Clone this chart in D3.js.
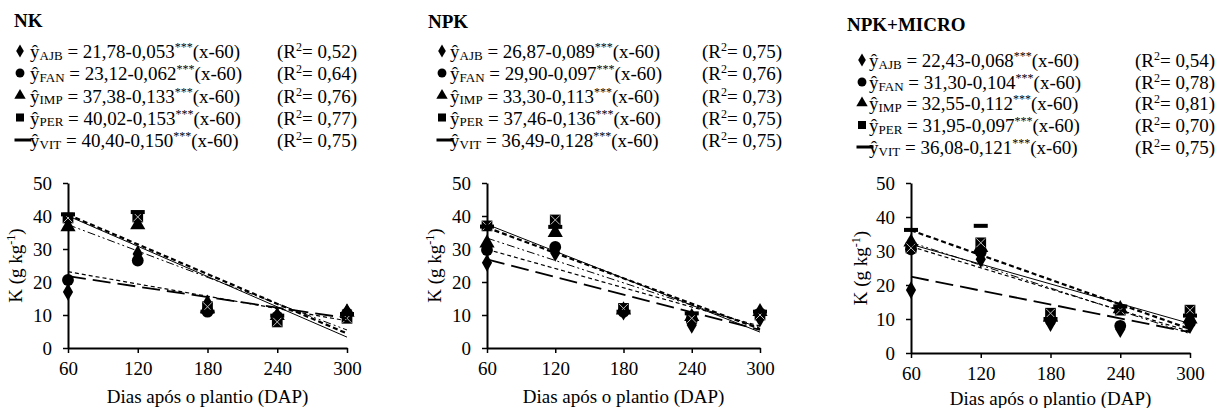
<!DOCTYPE html>
<html>
<head>
<meta charset="utf-8">
<script src="https://cdn.jsdelivr.net/npm/d3@7"></script>
<style>
  body { margin: 0; background: #fff; }
  svg text { font-family: "Times New Roman", Times, "Liberation Serif", "DejaVu Serif", serif; }
</style>
</head>
<body>
<svg id="chart" width="1219" height="408"></svg>
<script>
// Data
const days = [60, 120, 180, 240, 300];
const series = ['AJB', 'FAN', 'IMP', 'PER', 'VIT'];
const panelTitles = ['NK', 'NPK', 'NPK+MICRO'];
const yTicks = [0, 10, 20, 30, 40, 50];

// regression y = a - b*(x-60)
const intercepts = [
  [21.78, 23.12, 37.38, 40.02, 40.40],
  [26.87, 29.90, 33.30, 37.46, 36.49],
  [22.43, 31.30, 32.55, 31.95, 36.08]
];
const slopes = [
  [0.053, 0.062, 0.133, 0.153, 0.150],
  [0.089, 0.097, 0.113, 0.136, 0.128],
  [0.068, 0.104, 0.112, 0.097, 0.121]
];
const r2 = [
  [0.52, 0.64, 0.76, 0.77, 0.75],
  [0.75, 0.76, 0.73, 0.75, 0.75],
  [0.54, 0.78, 0.81, 0.70, 0.75]
];

// observed K (g kg-1) per series, at days 60..300
const nkValues = {
  AJB: [17.0, 28.5, 13.5, 9.5, 10.8],
  FAN: [20.6, 26.5, 11.0, 9.5, 10.5],
  IMP: [36.7, 37.3, 12.0, 9.8, 10.8],
  PER: [39.4, 39.7, 12.5, 7.9, 9.0],
  VIT: [40.5, 41.2, 11.0, 9.8, 10.3]
};
const npkValues = {
  AJB: [25.8, 28.8, 11.0, 7.0, 9.0],
  FAN: [29.7, 30.6, 11.0, 8.5, 10.5],
  IMP: [31.8, 35.0, 11.5, 9.5, 11.0],
  PER: [37.0, 38.8, 12.0, 9.0, 10.0],
  VIT: [36.8, 36.7, 11.0, 10.5, 11.0]
};
const microValues = {
  AJB: [18.5, 27.6, 8.8, 7.0, 8.2],
  FAN: [30.5, 29.7, 9.7, 8.0, 9.0],
  IMP: [32.6, 31.0, 10.5, 13.0, 10.0],
  PER: [30.9, 32.4, 11.7, 12.6, 12.6],
  VIT: [36.2, 37.4, 10.0, 13.7, 11.0]
};
const panelValues = [nkValues, npkValues, microValues];

// layout of each panel, pixels
const layouts = [
  { x0: 68, x1: 347, yb: 348, yt: 183, titleX: 14, titleY: 27, rows: [58, 80, 102.5, 124.5, 147], markX: 20, eqX: 30, r2X: 277, yLabX: 22, xTitleY: 403 },
  { x0: 487, x1: 760, yb: 348, yt: 183, titleX: 428, titleY: 28, rows: [58, 80, 102.5, 124.5, 147], markX: 442, eqX: 450, r2X: 702, yLabX: 441, xTitleY: 403 },
  { x0: 911, x1: 1190, yb: 353, yt: 183, titleX: 847, titleY: 31, rows: [67, 89, 110, 132, 154], markX: 862, eqX: 869, r2X: 1135, yLabX: 867, xTitleY: 405 }
];

const lineStyle = {
  AJB: { dash: '18,7', w: 1.8 },
  FAN: { dash: '4,3', w: 1.2 },
  IMP: { dash: '8,3,2,3,2,3', w: 1 },
  PER: { dash: null, w: 1 },
  VIT: { dash: '5,3', w: 2.2 }
};

const comma = s => s.replace('.', ',');
const fmt2 = d3.format('.2f');
const fmt3 = d3.format('.3f');

const svg = d3.select('#chart');

function drawMarker(g, name, x, y, legend) {
  const k = legend ? 0.75 : 1;
  if (name === 'VIT') {
    const w = legend ? 17 : 14, h = legend ? 3 : 4;
    const cx = legend ? x + 3 : x;
    g.append('rect').attr('x', cx - w / 2).attr('y', y - h / 2)
      .attr('width', w).attr('height', h).attr('fill', '#000');
    return;
  }
  const type = { AJB: d3.symbolDiamond, FAN: d3.symbolCircle, IMP: d3.symbolTriangle, PER: d3.symbolSquare }[name];
  const size = { AJB: 90, FAN: 110, IMP: 100, PER: 115 }[name] * k * k;
  g.append('path')
    .attr('d', d3.symbol().type(type).size(size)())
    .attr('transform', `translate(${x},${y})`)
    .attr('fill', '#000');
  if (name === 'PER' && !legend) {
    const s = 4.5;
    g.append('path')
      .attr('d', `M${x - s},${y - s}L${x + s},${y + s}M${x - s},${y + s}L${x + s},${y - s}`)
      .attr('stroke', '#bdbdbd').attr('stroke-width', 1);
  }
}

layouts.forEach((L, p) => {
  const g = svg.append('g');
  const values = panelValues[p];

  const xScale = d3.scaleLinear().domain([60, 300]).range([L.x0, L.x1]);
  const yScale = d3.scaleLinear().domain([0, 50]).range([L.yb, L.yt]);

  // Title
  g.append('text')
    .attr('x', L.titleX).attr('y', L.titleY)
    .attr('font-size', 19).attr('font-weight', 'bold')
    .text(panelTitles[p]);

  // Equations legend
  series.forEach((s, i) => {
    const y = L.rows[i];
    drawMarker(g, s, L.markX, y - 7, true);
    const t = g.append('text').attr('x', L.eqX).attr('y', y).attr('font-size', 19);
    t.append('tspan').text('ŷ');
    t.append('tspan').attr('font-size', 13).attr('dy', 1.5).text(s);
    t.append('tspan').attr('dy', -1.5).text(` = ${comma(fmt2(intercepts[p][i]))}-${comma(fmt3(slopes[p][i]))}`);
    t.append('tspan').attr('font-size', 12).attr('dy', -7).text('***');
    t.append('tspan').attr('dy', 7).text('(x-60)');

    const r = g.append('text').attr('x', L.r2X).attr('y', y).attr('font-size', 19);
    r.append('tspan').text('(R');
    r.append('tspan').attr('font-size', 12).attr('dy', -7).text('2');
    r.append('tspan').attr('dy', 7).text(`= ${comma(fmt2(r2[p][i]))})`);
  });

  // Axes
  const xAxis = g.append('g')
    .attr('transform', `translate(0,${L.yb})`)
    .call(d3.axisBottom(xScale).tickValues(days).tickSize(5).tickPadding(9).tickSizeOuter(0));
  const yAxis = g.append('g')
    .attr('transform', `translate(${L.x0},0)`)
    .call(d3.axisLeft(yScale).tickValues(yTicks).tickSize(5).tickPadding(11).tickSizeOuter(0));

  [xAxis, yAxis].forEach(a => {
    a.attr('font-family', null);
    a.select('.domain').attr('stroke', '#000').attr('stroke-width', 2);
    a.selectAll('.tick line').attr('stroke', '#000').attr('stroke-width', 1.5);
    a.selectAll('.tick text')
      .attr('fill', '#000').attr('font-size', 19);
  });

  // Axis titles
  g.append('text')
    .attr('text-anchor', 'middle')
    .attr('x', (L.x0 + L.x1) / 2).attr('y', L.xTitleY)
    .attr('font-size', 19)
    .text('Dias após o plantio (DAP)');

  const yl = g.append('text')
    .attr('text-anchor', 'middle')
    .attr('transform', `translate(${L.yLabX},${(L.yb + L.yt) / 2 + 0}) rotate(-90)`)
    .attr('font-size', 19);
  yl.append('tspan').text('K (g kg');
  yl.append('tspan').attr('font-size', 12).attr('dy', -7).text('-1');
  yl.append('tspan').attr('dy', 7).text(')');

  // Points
  series.forEach(s => {
    values[s].forEach((v, j) => drawMarker(g, s, xScale(days[j]), yScale(v), false));
  });

  // Trend lines
  const line = d3.line().x(d => xScale(d[0])).y(d => yScale(d[1]));
  series.forEach((s, i) => {
    const ends = [60, 300].map(x => [x, intercepts[p][i] - slopes[p][i] * (x - 60)]);
    g.append('path')
      .datum(ends)
      .attr('d', line)
      .attr('fill', 'none')
      .attr('stroke', '#000')
      .attr('stroke-width', lineStyle[s].w)
      .attr('stroke-dasharray', lineStyle[s].dash);
  });
});
</script>
</body>
</html>
